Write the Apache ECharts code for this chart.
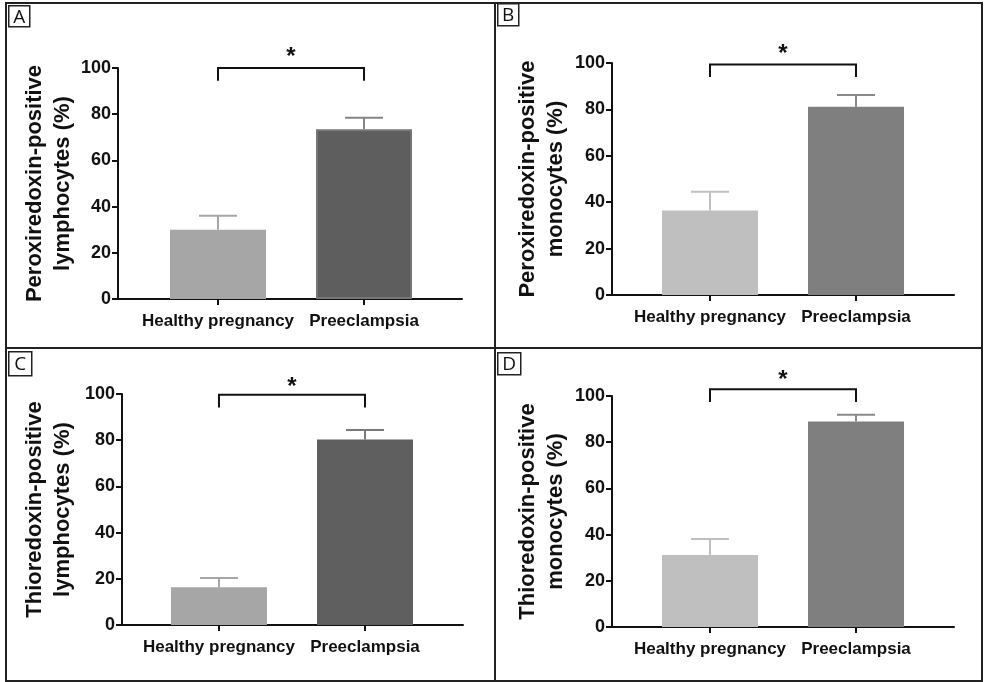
<!DOCTYPE html>
<html>
<head>
<meta charset="utf-8">
<script src="https://cdn.jsdelivr.net/npm/echarts@6/dist/echarts.min.js"></script>
<style>
html,body{margin:0;padding:0;background:#fff;}
#chart{width:986px;height:682px;}
</style>
</head>
<body>
<div id="chart"></div>
<script>
// ---- data ----
const categories = ['Healthy pregnancy', 'Preeclampsia'];
const panelLetters = ['A', 'B', 'C', 'D'];
const yTitles = [
  'Peroxiredoxin-positive\nlymphocytes (%)',
  'Peroxiredoxin-positive\nmonocytes (%)',
  'Thioredoxin-positive\nlymphocytes (%)',
  'Thioredoxin-positive\nmonocytes (%)'
];
const yTicks = [0, 20, 40, 60, 80, 100];
const peroxLymphMean = [30, 73.5];
const peroxLymphErr = [6, 5];
const peroxMonoMean = [36.4, 81.1];
const peroxMonoErr = [8.1, 5.1];
const thioLymphMean = [16.3, 80.3];
const thioLymphErr = [4, 4.1];
const thioMonoMean = [31.2, 89];
const thioMonoErr = [6.9, 2.9];
const bracketTop = [100, 99.3, 99.7, 102.9];
const bracketEnd = [94.5, 94, 94.2, 97.4];
const starLevel = [104.5, 103.7, 103, 106.8];
const sigLabel = ['*', '*', '*', '*'];

const means = [peroxLymphMean, peroxMonoMean, thioLymphMean, thioMonoMean];
const errs = [peroxLymphErr, peroxMonoErr, thioLymphErr, thioMonoErr];

// ---- styles / layout ----
const barColors = [
  ['#a6a6a6', '#5e5e5e'],
  ['#bfbfbf', '#7f7f7f'],
  ['#a6a6a6', '#5f5f5f'],
  ['#bfbfbf', '#7f7f7f']
];
const barBorders = [
  ['#a6a6a6', '#767676'],
  ['#bfbfbf', '#7f7f7f'],
  ['#a6a6a6', '#5f5f5f'],
  ['#bfbfbf', '#7f7f7f']
];
const errColors = [
  ['#a6a6a6', '#858585'],
  ['#bfbfbf', '#8a8a8a'],
  ['#a6a6a6', '#7a7a7a'],
  ['#bfbfbf', '#8a8a8a']
];
const grids = [
  {left: 118, top: 68, width: 344, height: 231},
  {left: 612, top: 63, width: 342, height: 232},
  {left: 122, top: 394, width: 341, height: 231},
  {left: 612, top: 396, width: 342, height: 231}
];
const xMins = [-0.685, -0.671, -0.664, -0.671];
const xMaxs = [1.671, 1.671, 1.671, 1.671];
const nameGaps = [41, 42, 45, 42];
const labelBoxes = [
  {x: 8, y: 5, w: 21, h: 21},
  {x: 497, y: 3, w: 21, h: 22},
  {x: 8, y: 351, w: 23, h: 24},
  {x: 497, y: 352, w: 23, h: 22}
];
const FONT = '"Liberation Sans", Arial, Helvetica, sans-serif';

const option = {
  animation: false,
  backgroundColor: '#fff',
  grid: [],
  xAxis: [],
  yAxis: [],
  series: [],
  graphic: []
};

for (let p = 0; p < 4; p++) {
  option.grid.push(Object.assign({outerBoundsMode: 'none', containLabel: false}, grids[p]));
  option.xAxis.push({
    gridIndex: p,
    type: 'value',
    min: xMins[p],
    max: xMaxs[p],
    splitLine: {show: false},
    axisLine: {show: true, onZero: false, lineStyle: {color: '#111', width: 2}},
    axisTick: {show: true, customValues: [0, 1], length: 6, lineStyle: {color: '#111', width: 2}},
    axisLabel: {
      show: true,
      customValues: [0, 1],
      formatter: v => categories[Math.round(v)],
      color: '#111', fontSize: 17, fontWeight: 'bold', fontFamily: FONT, margin: 14
    }
  });
  option.yAxis.push({
    gridIndex: p,
    type: 'value',
    min: 0, max: 100, interval: 20,
    name: yTitles[p],
    nameLocation: 'middle',
    nameGap: nameGaps[p],
    nameMoveOverlap: false,
    nameTextStyle: {color: '#111', fontSize: 22, fontWeight: 'bold', fontFamily: FONT, lineHeight: 28},
    splitLine: {show: false},
    axisLine: {show: true, onZero: false, lineStyle: {color: '#111', width: 2}},
    axisTick: {show: true, length: 6, lineStyle: {color: '#111', width: 2}},
    axisLabel: {color: '#111', fontSize: 18, fontWeight: 'bold', fontFamily: FONT, margin: 7,
      customValues: yTicks}
  });
  // bars
  option.series.push({
    type: 'bar',
    xAxisIndex: p, yAxisIndex: p,
    barWidth: 96,
    data: means[p].map((m, i) => ({
      value: [i, m],
      itemStyle: {color: barColors[p][i], borderColor: barBorders[p][i], borderWidth: 2}
    })),
    z: 2
  });
  // error bars (upper whisker)
  option.series.push({
    type: 'custom',
    xAxisIndex: p, yAxisIndex: p,
    clip: false,
    data: means[p].map((m, i) => [i, m, m + errs[p][i]]),
    renderItem: (params, api) => {
      const i = api.value(0);
      const base = api.coord([i, api.value(1)]);
      const top = api.coord([i, api.value(2)]);
      const col = errColors[p][i];
      const half = 19;
      return {
        type: 'group',
        children: [
          {type: 'line', shape: {x1: base[0], y1: base[1], x2: top[0], y2: top[1]},
            style: {stroke: col, lineWidth: 2}},
          {type: 'line', shape: {x1: top[0] - half, y1: top[1], x2: top[0] + half, y2: top[1]},
            style: {stroke: col, lineWidth: 2}}
        ]
      };
    },
    z: 3
  });
  // significance bracket + asterisk
  option.series.push({
    type: 'custom',
    xAxisIndex: p, yAxisIndex: p,
    clip: false,
    data: [[0, 1, bracketTop[p], bracketEnd[p], starLevel[p]]],
    renderItem: (params, api) => {
      const a0 = api.coord([api.value(0), api.value(3)]);
      const a1 = api.coord([api.value(0), api.value(2)]);
      const b1 = api.coord([api.value(1), api.value(2)]);
      const b0 = api.coord([api.value(1), api.value(3)]);
      const s = api.coord([(api.value(0) + api.value(1)) / 2, api.value(4)]);
      return {
        type: 'group',
        children: [
          {type: 'polyline', shape: {points: [a0, a1, b1, b0]},
            style: {stroke: '#111', lineWidth: 2, fill: null}},
          {type: 'text', x: s[0], y: s[1],
            style: {text: sigLabel[p], fill: '#111', font: 'bold 24px ' + FONT,
              align: 'center', verticalAlign: 'middle'}}
        ]
      };
    },
    z: 4
  });
  // panel letter
  const lb = labelBoxes[p];
  option.graphic.push({
    type: 'group',
    left: lb.x, top: lb.y,
    children: [
      {type: 'rect', shape: {x: 0, y: 0, width: lb.w, height: lb.h},
        style: {fill: '#fff', stroke: '#222', lineWidth: 1.5}},
      {type: 'text', x: lb.w / 2, y: lb.h / 2 + 1,
        style: {text: panelLetters[p], fill: '#111', font: '19px "Open Sans", "Noto Sans", sans-serif',
          align: 'center', verticalAlign: 'middle'}}
    ]
  });
}

// frame
option.graphic.push(
  {type: 'rect', shape: {x: 6, y: 3, width: 976, height: 678},
    style: {fill: null, stroke: '#222', lineWidth: 2}, z: 10},
  {type: 'line', shape: {x1: 495, y1: 3, x2: 495, y2: 681},
    style: {stroke: '#222', lineWidth: 2}, z: 10},
  {type: 'line', shape: {x1: 6, y1: 348, x2: 982, y2: 348},
    style: {stroke: '#222', lineWidth: 2}, z: 10}
);

const chart = echarts.init(document.getElementById('chart'), null, {renderer: 'canvas', width: 986, height: 682});
chart.setOption(option);
</script>
</body>
</html>
